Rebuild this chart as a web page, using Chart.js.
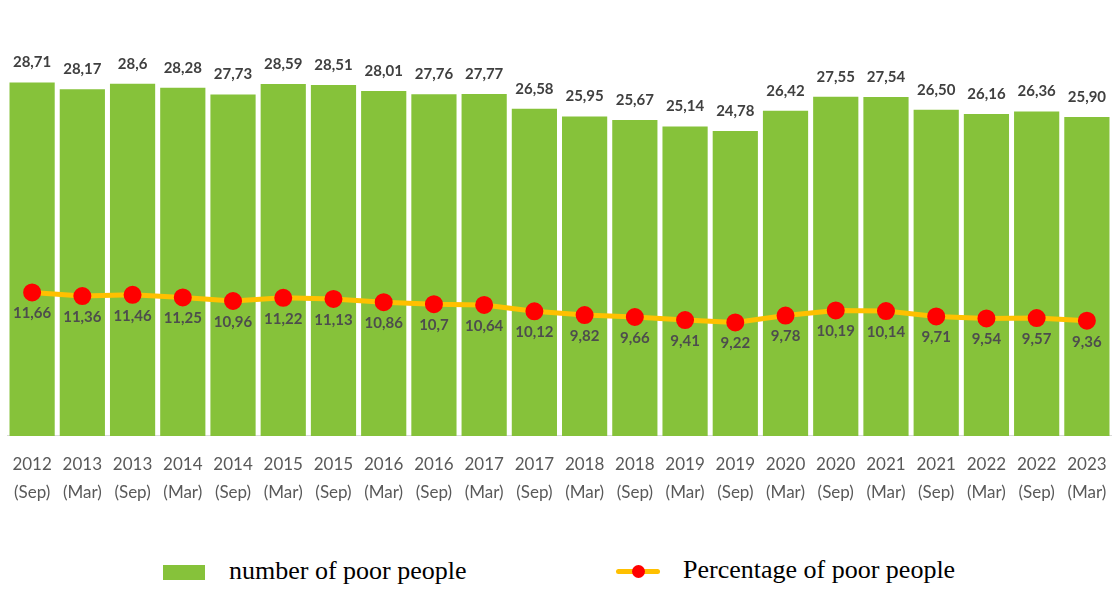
<!DOCTYPE html>
<html>
<head>
<meta charset="utf-8">
<script src="https://cdn.jsdelivr.net/npm/chart.js@4.4.0/dist/chart.umd.min.js"></script>
<style>
  body { margin: 0; background: #fff; }
  #wrap { position: relative; width: 1112px; height: 545px; }
  .legend { position: absolute; top: 556px; font-family: "Liberation Serif", "Times New Roman", serif; font-size: 26px; color: #000; }
  .box { position: absolute; top: 9px; width: 42px; height: 15px; background: #86c23a; }
  .ln { position: absolute; top: 13px; width: 44px; height: 5px; background: #ffc000; border-radius: 3px; }
  .dot { position: absolute; left: 16px; width: 13px; height: 13px; border-radius: 50%; background: #ff0000; }
</style>
</head>
<body>
<div id="wrap"><canvas id="chart" width="1112" height="545"></canvas></div>
<div class="legend" style="left:163px"><div class="box" style="left:0"></div><span style="position:absolute;left:66px;top:0;white-space:nowrap">number of poor people</span></div>
<div class="legend" style="left:616px"><div class="ln" style="left:0"><div class="dot" style="top:-4px"></div></div><span style="position:absolute;left:67px;top:-1px;white-space:nowrap">Percentage of poor people</span></div>
<script>
const years = ['2012','2013','2013','2014','2014','2015','2015','2016','2016','2017','2017','2018','2018','2019','2019','2020','2020','2021','2021','2022','2022','2023'];
const months = ['(Sep)','(Mar)','(Sep)','(Mar)','(Sep)','(Mar)','(Sep)','(Mar)','(Sep)','(Mar)','(Sep)','(Mar)','(Sep)','(Mar)','(Sep)','(Mar)','(Sep)','(Mar)','(Sep)','(Mar)','(Sep)','(Mar)'];
const poorPeople = ['28,71','28,17','28,6','28,28','27,73','28,59','28,51','28,01','27,76','27,77','26,58','25,95','25,67','25,14','24,78','26,42','27,55','27,54','26,50','26,16','26,36','25,90'];
const poorPercent = ['11,66','11,36','11,46','11,25','10,96','11,22','11,13','10,86','10,7','10,64','10,12','9,82','9,66','9,41','9,22','9,78','10,19','10,14','9,71','9,54','9,57','9,36'];

const toNum = s => parseFloat(s.replace(',', '.'));

// text above bars and below line points
const valueLabels = {
  id: 'valueLabels',
  afterDatasetsDraw(chart) {
    const ctx = chart.ctx;
    ctx.save();
    ctx.textAlign = 'center';
    ctx.textBaseline = 'middle';
    ctx.font = 'bold 15px Lato';
    chart.getDatasetMeta(1).data.forEach((bar, i) => {
      ctx.fillStyle = '#404040';
      ctx.fillText(poorPeople[i], bar.x, bar.y - 20);
    });
    chart.getDatasetMeta(0).data.forEach((pt, i) => {
      ctx.fillStyle = '#4d4d4d';
      ctx.fillText(poorPercent[i], pt.x, pt.y + 21);
    });
    ctx.restore();
  }
};

new Chart(document.getElementById('chart'), {
  data: {
    labels: years.map((y, i) => [y, months[i]]),
    datasets: [
      {
        type: 'line',
        label: 'Percentage of poor people',
        data: poorPercent.map(toNum),
        borderColor: '#ffc000',
        borderWidth: 5,
        pointBackgroundColor: '#ff0000',
        pointBorderColor: '#ff0000',
        pointRadius: 6.5,
        tension: 0,
        order: 0
      },
      {
        type: 'bar',
        label: 'number of poor people',
        data: poorPeople.map(toNum),
        backgroundColor: '#86c23a',
        barPercentage: 0.9,
        categoryPercentage: 1,
        order: 1
      }
    ]
  },
  options: {
    responsive: false,
    animation: false,
    layout: { autoPadding: false, padding: { left: 7, right: 0, top: 42, bottom: 39 } },
    plugins: { legend: { display: false }, tooltip: { enabled: false } },
    scales: {
      x: {
        grid: { display: true, drawOnChartArea: false, drawTicks: true, tickLength: 15, color: 'rgba(0,0,0,0)' },
        border: { display: true, color: '#d9d9d9', width: 1 },
        ticks: { color: '#595959', font: { family: 'Lato', size: 17, lineHeight: 1.62 }, padding: 0, maxRotation: 0, autoSkip: false }
      },
      y: {
        display: false,
        min: 0,
        max: 32
      }
    }
  },
  plugins: [valueLabels]
});
</script>
</body>
</html>
